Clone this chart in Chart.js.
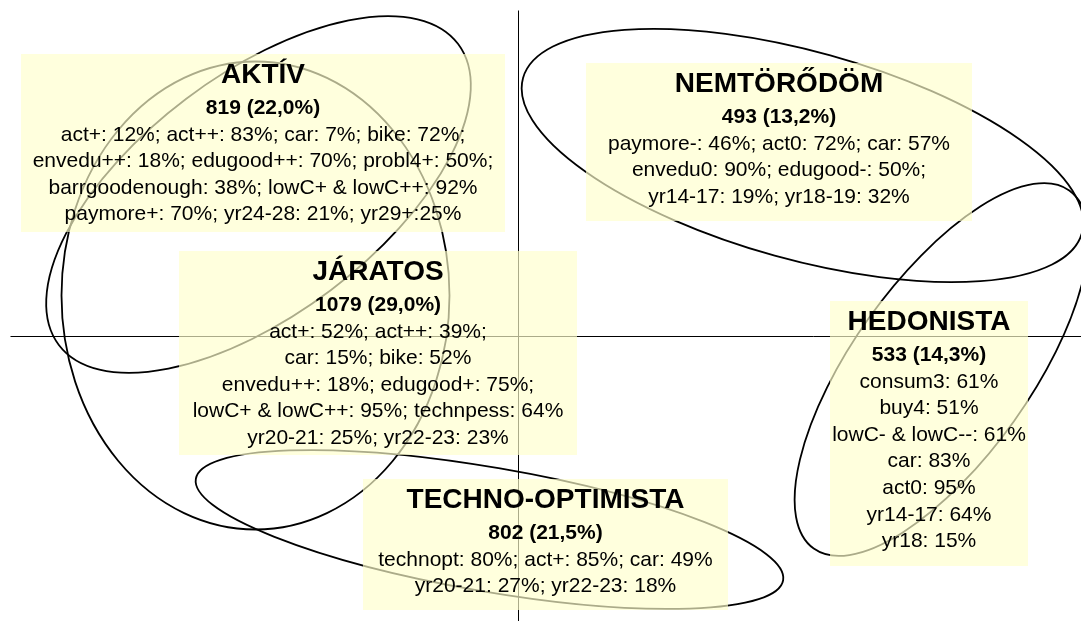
<!DOCTYPE html>
<html>
<head>
<meta charset="utf-8">
<script src="https://cdn.jsdelivr.net/npm/chart.js@4.4.1/dist/chart.umd.min.js"></script>
<style>
  html, body { margin: 0; padding: 0; background: #fff; }
  #wrap { width: 1081px; height: 621px; }
</style>
</head>
<body>
<div id="wrap"><canvas id="mapChart"></canvas></div>
<script>
// Klaszterek a térképen (tetszőleges egységek, a tengelyek a 0,0 pontban metszik egymást)
const clusters = ['AKTÍV', 'JÁRATOS', 'NEMTÖRŐDÖM', 'HEDONISTA', 'TECHNO-OPTIMISTA'];
const counts = [819, 1079, 493, 533, 802];
const shares = [22.0, 29.0, 13.2, 14.3, 21.5];
const profiles = [
  ['act+: 12%; act++: 83%; car: 7%; bike: 72%;', 'envedu++: 18%; edugood++: 70%; probl4+: 50%;',
   'barrgoodenough: 38%; lowC+ & lowC++: 92%', 'paymore+: 70%; yr24-28: 21%; yr29+:25%'],
  ['act+: 52%; act++: 39%;', 'car: 15%; bike: 52%', 'envedu++: 18%; edugood+: 75%;',
   'lowC+ & lowC++: 95%; technpess: 64%', 'yr20-21: 25%; yr22-23: 23%'],
  ['paymore-: 46%; act0: 72%; car: 57%', 'envedu0: 90%; edugood-: 50%;', 'yr14-17: 19%; yr18-19: 32%'],
  ['consum3: 61%', 'buy4: 51%', 'lowC- & lowC--: 61%', 'car: 83%', 'act0: 95%', 'yr14-17: 64%', 'yr18: 15%'],
  ['technopt: 80%; act+: 85%; car: 49%', 'yr20-21: 27%; yr22-23: 18%']
];

// ellipszisek: középpont, sugarak, dőlésszög (fok, az óramutatóval ellentétesen)
const ellCx = [-2.60, -2.63, 2.84, 4.23, -0.29];
const ellCy = [1.42, 0.41, 1.81, -0.33, -1.93];
const ellRx = [2.50, 1.94, 2.90, 2.20, 2.98];
const ellRy = [1.20, 2.34, 1.04, 0.89, 0.62];
const ellAngle = [37, 0, -15.5, 54.5, -9.8];

// tengelyvonalak végpontjai
const axisX = [-5.08, 5.63];
const axisY = [-2.85, 3.26];

// szövegdobozok elhelyezése (left, top, right, bottom)
const boxes = [
  [-4.97, 2.83, -0.14, 1.05],
  [-3.39, 0.86, 0.58, -1.19],
  [0.67, 2.74, 4.53, 1.16],
  [3.11, 0.36, 5.09, -2.29],
  [-1.56, -1.42, 2.09, -2.73]
];

const FONT = '"Liberation Sans", Arial, sans-serif';

const mapPlugin = {
  id: 'mapPlugin',
  beforeDatasetsDraw(chart) {
    const { ctx, scales: { x, y } } = chart;
    ctx.save();
    ctx.strokeStyle = '#000';
    ctx.lineWidth = 1.8;
    ellCx.forEach((cx, i) => {
      const px = x.getPixelForValue(cx);
      const py = y.getPixelForValue(ellCy[i]);
      const rx = Math.abs(x.getPixelForValue(cx + ellRx[i]) - px);
      const ry = Math.abs(y.getPixelForValue(ellCy[i] + ellRy[i]) - py);
      ctx.beginPath();
      ctx.ellipse(px, py, rx, ry, -ellAngle[i] * Math.PI / 180, 0, 2 * Math.PI);
      ctx.stroke();
    });
    ctx.restore();
  },
  afterDatasetsDraw(chart) {
    const { ctx, scales: { x, y } } = chart;
    ctx.save();
    boxes.forEach((b, i) => {
      const L = Math.round(x.getPixelForValue(b[0])), T = Math.round(y.getPixelForValue(b[1]));
      const R = Math.round(x.getPixelForValue(b[2])), B = Math.round(y.getPixelForValue(b[3]));
      ctx.fillStyle = 'rgba(255, 255, 204, 0.67)';
      ctx.fillRect(L, T, R - L, B - T);

      const mid = (L + R) / 2;
      ctx.fillStyle = '#000';
      ctx.textAlign = 'center';
      ctx.textBaseline = 'alphabetic';
      ctx.font = 'bold 28px ' + FONT;
      ctx.fillText(clusters[i], mid, T + 29);
      ctx.font = 'bold 21px ' + FONT;
      ctx.fillText(counts[i] + ' (' + shares[i].toFixed(1).replace('.', ',') + '%)', mid, T + 59.5);
      ctx.font = '21px ' + FONT;
      profiles[i].forEach((line, k) => {
        ctx.fillText(line, mid, T + 86.5 + k * 26.6);
      });
    });
    ctx.restore();
  }
};

const ctx = document.getElementById('mapChart').getContext('2d');
const mapChart = new Chart(ctx, {
  type: 'scatter',
  data: {
    datasets: [
      {
        label: 'x tengely',
        data: [{ x: axisX[0], y: 0 }, { x: axisX[1], y: 0 }],
        showLine: true, borderColor: '#000', borderWidth: 1, pointRadius: 0
      },
      {
        label: 'y tengely',
        data: [{ x: 0, y: axisY[0] }, { x: 0, y: axisY[1] }],
        showLine: true, borderColor: '#000', borderWidth: 1, pointRadius: 0
      }
    ]
  },
  options: {
    responsive: true,
    maintainAspectRatio: false,
    animation: false,
    layout: { padding: 0 },
    plugins: {
      legend: { display: false },
      tooltip: { enabled: false }
    },
    scales: {
      // a 0 érték fél pixelre esik, így a tengelyvonal éles marad
      x: { type: 'linear', min: -5.185, max: 5.625, display: false },
      y: { type: 'linear', min: -2.845, max: 3.365, display: false }
    }
  },
  plugins: [mapPlugin]
});
</script>
</body>
</html>
